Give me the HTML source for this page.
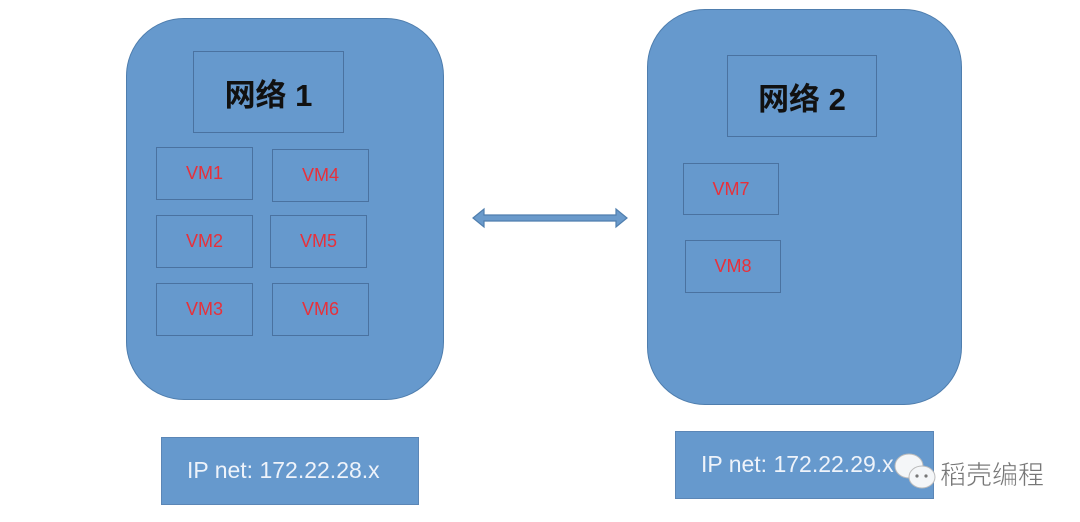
<!DOCTYPE html>
<html><head><meta charset="utf-8"><style>
body{margin:0;width:1080px;height:522px;background:#fff;position:relative;overflow:hidden;font-family:"Liberation Sans","Noto Sans CJK SC",sans-serif}
.c{position:absolute;background:#6699cd;border:1.5px solid #4f7eae;box-sizing:border-box}
.b{position:absolute;border:1.5px solid #4a72a0;box-sizing:border-box;display:flex;align-items:center;justify-content:center}
.vm{color:#e8303a;font-size:18px}
.t{font-size:31px;font-weight:bold;color:#111}
.ip{color:#eef3fa;font-size:23px;position:absolute;white-space:nowrap}
</style></head><body>
<div class="c" style="left:126px;top:18px;width:318px;height:382px;border-radius:58px"></div>
<div class="c" style="left:647px;top:9px;width:315px;height:396px;border-radius:58px"></div>
<div class="b t" style="left:193px;top:51px;width:151px;height:82px">网络 1</div>
<div class="b vm" style="left:156px;top:147px;width:97px;height:53px">VM1</div>
<div class="b vm" style="left:272px;top:149px;width:97px;height:53px">VM4</div>
<div class="b vm" style="left:156px;top:215px;width:97px;height:53px">VM2</div>
<div class="b vm" style="left:270px;top:215px;width:97px;height:53px">VM5</div>
<div class="b vm" style="left:156px;top:283px;width:97px;height:53px">VM3</div>
<div class="b vm" style="left:272px;top:283px;width:97px;height:53px">VM6</div>
<div class="b t" style="left:727px;top:55px;width:150px;height:82px">网络 2</div>
<div class="b vm" style="left:683px;top:163px;width:96px;height:52px">VM7</div>
<div class="b vm" style="left:685px;top:240px;width:96px;height:53px">VM8</div>
<div class="c" style="left:161px;top:437px;width:258px;height:68px;border-color:#5b86b6"><span class="ip" style="left:25px;top:19px">IP net: 172.22.28.x</span></div>
<div class="c" style="left:675px;top:431px;width:259px;height:68px;border-color:#5b86b6"><span class="ip" style="left:25px;top:19px">IP net: 172.22.29.x</span></div>
<svg style="position:absolute;left:0;top:0" width="1080" height="522">
<path d="M473 218 L484 209 L484 215 L616 215 L616 209 L627 218 L616 227 L616 221 L484 221 L484 227 Z" fill="#6a9acb" stroke="#4f7eae" stroke-width="1.2"/>
<ellipse cx="909" cy="466" rx="14" ry="12" fill="#f4f6f8" stroke="#bbb"/>
<ellipse cx="922" cy="477" rx="13" ry="11" fill="#f4f6f8" stroke="#bbb"/>
<circle cx="917" cy="476" r="1.6" fill="#777"/><circle cx="926" cy="476" r="1.6" fill="#777"/>
<text x="940" y="484" font-size="26" fill="#777" stroke="#fff" stroke-width="0.5" font-family="Noto Sans CJK SC,sans-serif">稻壳编程</text>
</svg>
</body></html>
